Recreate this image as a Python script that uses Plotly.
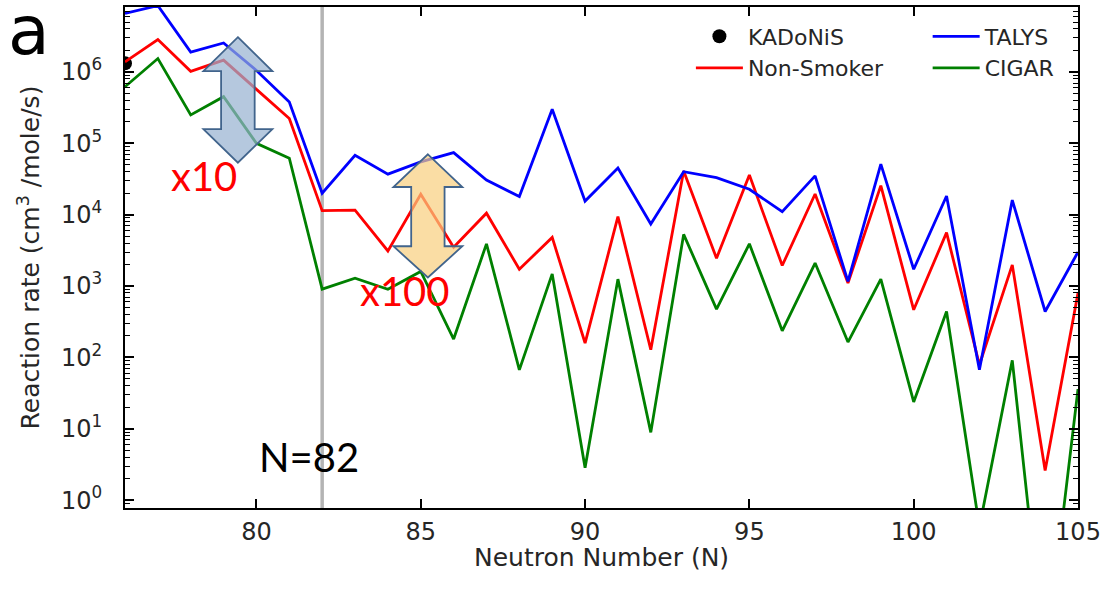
import plotly.graph_objects as go

# ---------------- data ----------------
neutron_number = list(range(76, 106))

talys = [6.6e6, 8.5e6, 1.9e6, 2.55e6, 1.05e6, 3.8e5, 2.0e4, 6.8e4, 3.7e4, 5.5e4,
         7.4e4, 3.05e4, 1.8e4, 3.0e5, 1.55e4, 4.5e4, 7.4e3, 4.0e4, 3.3e4, 2.27e4,
         1.1e4, 3.5e4, 1.16e3, 5.1e4, 1.72e3, 1.83e4, 67, 1.6e4, 440, 3.0e3]

non_smoker = [1.38e6, 2.84e6, 1.02e6, 1.46e6, 5.7e5, 2.23e5, 1.14e4, 1.16e4, 3.1e3, 1.93e4,
              3.5e3, 1.05e4, 1.72e3, 4.8e3, 159, 9.4e3, 128, 4.1e4, 2.45e3, 3.6e4,
              1.94e3, 1.95e4, 1.1e3, 2.55e4, 465, 5.6e3, 79, 1.98e3, 2.6, 800]

cigar = [6.2e5, 1.54e6, 2.5e5, 4.5e5, 1.0e5, 6.2e4, 906, 1.29e3, 900, 1.6e3,
         181, 3.9e3, 67, 1.48e3, 2.84, 1.25e3, 8.9, 5.3e3, 475, 3.9e3,
         236, 2.1e3, 164, 1.25e3, 23.8, 440, 0.42, 91, 0.005, 36]

kadonis_n = [76]
kadonis_rate = [1.32e6]

shell_closure = 82

x_ticks = [80, 85, 90, 95, 100, 105]
y_ticks = [1, 10, 100, 1e3, 1e4, 1e5, 1e6]
y_ticktext = ["10<sup>%d</sup>" % e for e in range(0, 7)]

# ---------------- geometry helpers (pixel -> paper) ----------------
W, H = 1106, 596
L, R, T, B = 124.5, 1078.5, 6.5, 508.0


def px(x):
    return (x - L) / (R - L)


def py(y):
    return (B - y) / (B - T)


def arrow_path(cx, top, bottom, head_half, shaft_half, head_top_base, head_bot_base):
    pts = [(cx, top), (cx + head_half, head_top_base), (cx + shaft_half, head_top_base),
           (cx + shaft_half, head_bot_base), (cx + head_half, head_bot_base), (cx, bottom),
           (cx - head_half, head_bot_base), (cx - shaft_half, head_bot_base),
           (cx - shaft_half, head_top_base), (cx - head_half, head_top_base)]
    s = "M " + " L ".join("%.5f,%.5f" % (px(a), py(b)) for a, b in pts) + " Z"
    return s


fig = go.Figure()

fig.add_trace(go.Scatter(x=kadonis_n, y=kadonis_rate, mode="markers", name="KADoNiS",
                         marker=dict(color="black", size=14), legend="legend"))
fig.add_trace(go.Scatter(x=neutron_number, y=non_smoker, mode="lines", name="Non-Smoker",
                         line=dict(color="#ff0000", width=2.8), legend="legend"))
fig.add_trace(go.Scatter(x=neutron_number, y=talys, mode="lines", name="TALYS",
                         line=dict(color="#0000ff", width=2.8), legend="legend2"))
fig.add_trace(go.Scatter(x=neutron_number, y=cigar, mode="lines", name="CIGAR",
                         line=dict(color="#008000", width=2.8), legend="legend2"))

# N = 82 vertical line
fig.add_shape(type="line", xref="x", yref="paper", x0=shell_closure, x1=shell_closure,
              y0=0, y1=1, line=dict(color="#b4b4b4", width=3.5), layer="below")

# block arrows
fig.add_shape(type="path", xref="paper", yref="paper",
              path=arrow_path(237.5, 36.7, 162.3, 34.5, 16.8, 70.7, 128.7),
              fillcolor="rgba(150,176,208,0.7)", line=dict(color="#41648c", width=1.8))
fig.add_shape(type="path", xref="paper", yref="paper",
              path=arrow_path(427.7, 154.0, 277.3, 34.5, 16.7, 186.7, 246.0),
              fillcolor="rgba(248,206,126,0.7)", line=dict(color="#41648c", width=1.8))

ann_font = "Lato, 'Open Sans', sans-serif"
ann_common = dict(xref="paper", yref="paper", showarrow=False,
                  xanchor="center", yanchor="middle")
fig.add_annotation(text="x10", x=px(204), y=py(176),
                   font=dict(family=ann_font, size=40, color="#ff0000"), **ann_common)
fig.add_annotation(text="x100", x=px(405), y=py(291),
                   font=dict(family=ann_font, size=40, color="#ff0000"), **ann_common)
fig.add_annotation(text="N=82", x=px(308.5), y=py(457),
                   font=dict(family=ann_font, size=40, color="black"), **ann_common)
fig.add_annotation(text="a", x=px(28.5), y=py(30),
                   font=dict(family="DejaVu Sans", size=68, color="black"), **ann_common)
# x-axis title
fig.add_annotation(text="Neutron Number (N)", x=px(601.5), y=py(558),
                   font=dict(family="DejaVu Sans", size=25, color="#262626"), **ann_common)

axis_common = dict(showline=True, linecolor="black", linewidth=1.8, mirror="ticks",
                   ticks="inside", tickcolor="black", showgrid=False, zeroline=False,
                   tickfont=dict(family="DejaVu Sans", size=24, color="#262626"))

fig.update_xaxes(range=[76, 105], tickvals=x_ticks, ticklen=9, tickwidth=1.5,
                 ticklabelstandoff=1, **axis_common)

minor_vals = [k * 10 ** e for e in range(-1, 7) for k in range(2, 10)]
fig.update_yaxes(type="log", range=[-0.11, 6.91], tickvals=y_ticks, ticktext=y_ticktext,
                 ticklen=9, tickwidth=1.5, ticklabelstandoff=16,
                 minor=dict(tickvals=minor_vals, ticks="inside", ticklen=5, tickwidth=1.2,
                            tickcolor="black", showgrid=False),
                 title=dict(text="Reaction rate (cm<sup>3</sup> /mole/s)", standoff=14,
                            font=dict(family="DejaVu Sans", size=25, color="#262626")),
                 **axis_common)

legend_common = dict(xanchor="left", yanchor="top", bgcolor="rgba(0,0,0,0)",
                     font=dict(family="DejaVu Sans", size=22, color="#262626"),
                     itemwidth=47, tracegroupgap=0, borderwidth=0)
fig.update_layout(
    width=W, height=H, autosize=False,
    margin=dict(l=L, r=W - R, t=T, b=H - B, pad=0),
    paper_bgcolor="white", plot_bgcolor="white",
    legend=dict(x=px(691), y=py(15), **legend_common),
    legend2=dict(x=px(928), y=py(15), **legend_common),
)

fig.write_html("out.html")
